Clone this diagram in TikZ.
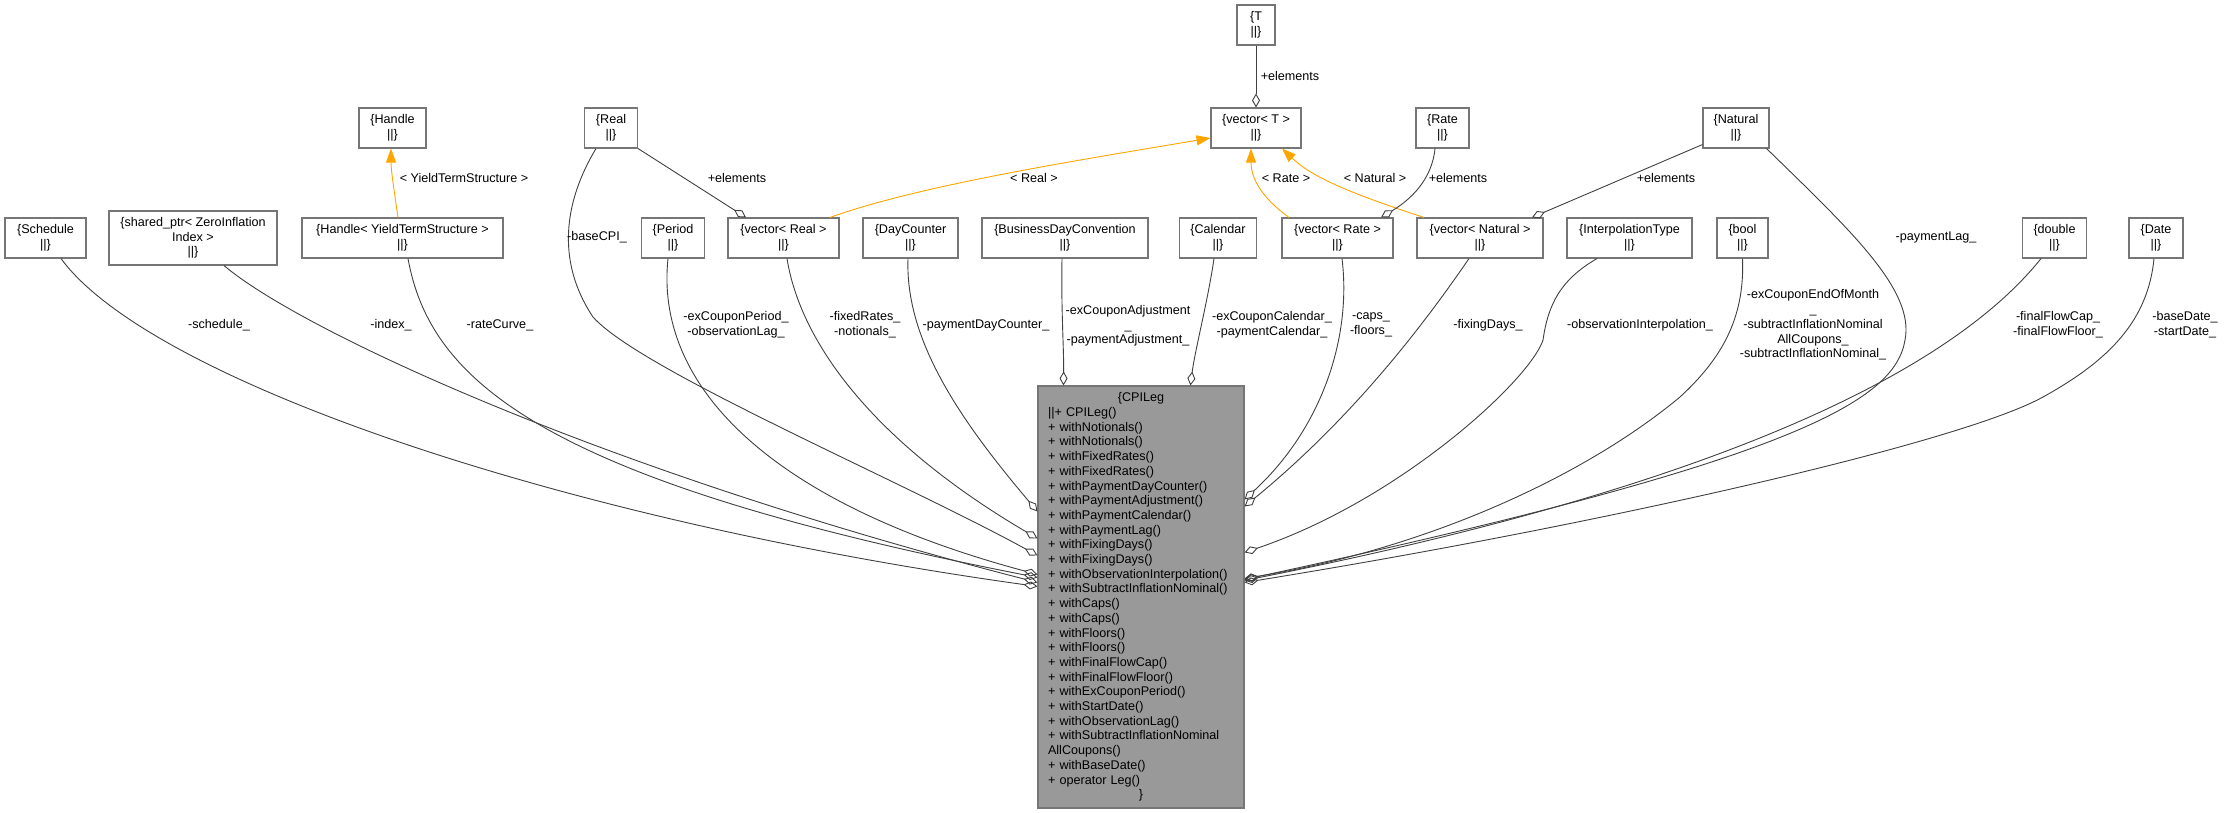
\documentclass[tikz,border=0pt]{standalone}
\usepackage{fontspec}
\setmainfont{Liberation Sans}
\usepackage{xcolor}
\usetikzlibrary{arrows.meta}
\definecolor{edgegray}{RGB}{64,64,64}
\definecolor{boxgray}{RGB}{118,118,118}
\definecolor{legfill}{RGB}{153,153,153}
\definecolor{tmplorange}{RGB}{255,165,0}
\newcommand{\dxfont}{\fontsize{12.6}{14.7}\selectfont}

\begin{document}
\begin{tikzpicture}[x=1pt,y=-1pt,
  cls/.style={draw=boxgray,fill=white,line width=1.1pt,inner sep=0pt,
    align=center,font=\dxfont,minimum height=40pt},
  lbl/.style={inner sep=0pt,align=center,font=\dxfont},
  member/.style={draw=edgegray,line width=0.9pt,
    -{Diamond[open,length=14pt,width=8pt,line width=0.9pt]}},
  tmpl/.style={draw=tmplorange,line width=0.9pt,
    -{Triangle[length=14pt,width=10pt]}}]
  \useasboundingbox (0,0) rectangle (2225,813);

  % top row of classes
  \node[cls,minimum width=38pt] (t) at (1256,25) {\{T\\||\}};
  \node[cls,minimum width=90pt] (vect) at (1256,128) {\{vector< T >\\||\}};
  \node[cls,minimum width=67pt] (handle) at (392.5,128) {\{Handle\\||\}};
  \node[cls,minimum width=53pt] (real) at (611,128) {\{Real\\||\}};
  \node[cls,minimum width=53pt] (rate) at (1442.5,128) {\{Rate\\||\}};
  \node[cls,minimum width=66pt] (natural) at (1736,128) {\{Natural\\||\}};

  % member types
  \node[cls,minimum width=81pt] (schedule) at (45.5,238) {\{Schedule\\||\}};
  \node[cls,minimum width=168pt,minimum height=54pt] (zeroidx) at (193,238)
    {\{shared\_ptr< ZeroInflation\\Index >\\||\}};
  \node[cls,minimum width=201pt] (yts) at (402.5,238) {\{Handle< YieldTermStructure >\\||\}};
  \node[cls,minimum width=63pt] (period) at (673,238) {\{Period\\||\}};
  \node[cls,minimum width=111pt] (vecreal) at (783.5,238) {\{vector< Real >\\||\}};
  \node[cls,minimum width=95pt] (daycounter) at (910.5,238) {\{DayCounter\\||\}};
  \node[cls,minimum width=166pt] (bdc) at (1065,238) {\{BusinessDayConvention\\||\}};
  \node[cls,minimum width=77pt] (calendar) at (1218,238) {\{Calendar\\||\}};
  \node[cls,minimum width=111pt] (vecrate) at (1337.5,238) {\{vector< Rate >\\||\}};
  \node[cls,minimum width=126pt] (vecnatural) at (1480,238) {\{vector< Natural >\\||\}};
  \node[cls,minimum width=125pt] (interp) at (1629.5,238) {\{InterpolationType\\||\}};
  \node[cls,minimum width=51pt] (bool) at (1742.5,238) {\{bool\\||\}};
  \node[cls,minimum width=64pt] (double) at (2054.5,238) {\{double\\||\}};
  \node[cls,minimum width=54pt] (date) at (2156,238) {\{Date\\||\}};

  % the class itself
  \node[cls,fill=legfill,minimum height=422pt,text width=186pt,inner xsep=10pt,
    align=left] (leg) at (1141,597) {\makebox[186pt]{\{CPILeg}\\
    ||+ CPILeg()\\
    + withNotionals()\\
    + withNotionals()\\
    + withFixedRates()\\
    + withFixedRates()\\
    + withPaymentDayCounter()\\
    + withPaymentAdjustment()\\
    + withPaymentCalendar()\\
    + withPaymentLag()\\
    + withFixingDays()\\
    + withFixingDays()\\
    + withObservationInterpolation()\\
    + withSubtractInflationNominal()\\
    + withCaps()\\
    + withCaps()\\
    + withFloors()\\
    + withFloors()\\
    + withFinalFlowCap()\\
    + withFinalFlowFloor()\\
    + withExCouponPeriod()\\
    + withStartDate()\\
    + withObservationLag()\\
    + withSubtractInflationNominal\\
    AllCoupons()\\
    + withBaseDate()\\
    + operator Leg()\\
    \makebox[186pt]{\}}};

  % template instances
  \draw[tmpl] ([xshift=-4.5pt]yts.north) .. controls (394,190) and (391,170) .. ([xshift=-1.5pt]handle.south);
  \draw[tmpl] ([xshift=46.5pt]vecreal.north) .. controls (920,185) and (1080,160) .. ([yshift=-10pt]vect.west);
  \draw[tmpl] ([xshift=-48.5pt]vecrate.north) .. controls (1258,195) and (1251,175) .. ([xshift=-5pt]vect.south);
  \draw[tmpl] ([xshift=-56pt]vecnatural.north) .. controls (1340,190) and (1310,175) .. ([xshift=26pt]vect.south);
  \node[lbl] (lyts) at (464,178) {< YieldTermStructure >};
  \node[lbl] (lreal) at (1034,178) {< Real >};
  \node[lbl] (lrate) at (1286,178) {< Rate >};
  \node[lbl] (lnat) at (1375,178) {< Natural >};

  % element members of the vectors
  \draw[member] (t.south) -- (vect.north);
  \draw[member] (real.south east) -- ([xshift=-37.5pt]vecreal.north);
  \draw[member] ([xshift=-7.5pt]rate.south) .. controls (1432,180) and (1410,200) .. ([xshift=43.5pt]vecrate.north);
  \draw[member] ([yshift=4pt]natural.south west) -- ([xshift=52pt]vecnatural.north);
  \node[lbl] (lelemt) at (1290,76) {+elements};
  \node[lbl] (lelemreal) at (737,178) {+elements};
  \node[lbl] (lelemrate) at (1458,178) {+elements};
  \node[lbl] (lelemnat) at (1666,178) {+elements};

  % members, left side
  \draw[member] ([xshift=15.5pt]schedule.south) .. controls (150,380) and (560,520) .. ([yshift=-201pt]leg.north west);
  \draw[member] ([xshift=31pt]zeroidx.south) .. controls (300,330) and (600,470) .. ([yshift=-197pt]leg.north west);
  \draw[member] ([xshift=5.5pt]yts.south) .. controls (430,380) and (540,480) .. ([yshift=-192pt]leg.north west);
  \draw[member] ([xshift=-15pt]real.south) .. controls (565,200) and (555,260) .. (593,317)
    .. controls (640,370) and (900,480) .. ([yshift=-170pt]leg.north west);
  \draw[member] ([xshift=-5pt]period.south) .. controls (655,380) and (760,500) .. ([yshift=-189pt]leg.north west);
  \draw[member] ([xshift=3.5pt]vecreal.south) .. controls (800,340) and (870,440) .. ([yshift=-153pt]leg.north west);
  \draw[member] ([xshift=-2.5pt]daycounter.south) .. controls (905,340) and (960,420) .. ([yshift=-126pt]leg.north west);

  % members, top
  \draw[member] ([xshift=-3pt]bdc.south) .. controls (1061,310) and (1064,350) .. ([xshift=26pt]leg.north west);
  \draw[member] ([xshift=-4pt]calendar.south) .. controls (1208,300) and (1195,350) .. ([xshift=153pt]leg.north west);

  % members, right side
  \draw[member] ([xshift=4.5pt]vecrate.south) .. controls (1352,340) and (1320,430) .. ([yshift=-114pt]leg.north east);
  \draw[member] ([xshift=-11pt]vecnatural.south) .. controls (1420,330) and (1350,420) .. ([yshift=-121pt]leg.north east);
  \draw[member] ([xshift=-32.5pt]interp.south) .. controls (1560,280) and (1548,305) .. (1543,340)
    .. controls (1530,380) and (1400,500) .. ([yshift=-167pt]leg.north east);
  \draw[member] (bool.south) .. controls (1745,320) and (1720,360) .. (1680,397)
    .. controls (1580,480) and (1420,550) .. ([yshift=-193pt]leg.north east);
  \draw[member] ([xshift=-3pt]natural.south east) .. controls (1850,230) and (1915,290) .. (1905,340)
    .. controls (1895,400) and (1800,460) .. ([yshift=-194pt]leg.north east);
  \draw[member] ([xshift=-13.5pt]double.south) .. controls (1960,360) and (1750,480) .. ([yshift=-195pt]leg.north east);
  \draw[member] ([xshift=-2pt]date.south) .. controls (2148,320) and (2110,360) .. (2043,397)
    .. controls (1960,443) and (1600,525) .. ([yshift=-197pt]leg.north east);

  % member labels
  \node[lbl] (lsched) at (219,325) {-schedule\_};
  \node[lbl] (lidx) at (391,325) {-index\_};
  \node[lbl] (lcurve) at (500,325) {-rateCurve\_};
  \node[lbl] (lbase) at (597,237) {-baseCPI\_};
  \node[lbl] (lperiod) at (736,325) {-exCouponPeriod\_\\-observationLag\_};
  \node[lbl] (lrates) at (865,325) {-fixedRates\_\\-notionals\_};
  \node[lbl] (ldc) at (986,325) {-paymentDayCounter\_};
  \node[lbl] (ladj) at (1128,326) {-exCouponAdjustment\\\_\\-paymentAdjustment\_};
  \node[lbl] (lcal) at (1272,325) {-exCouponCalendar\_\\-paymentCalendar\_};
  \node[lbl] (lcaps) at (1371,325) {-caps\_\\-floors\_};
  \node[lbl] (lfix) at (1488,325) {-fixingDays\_};
  \node[lbl] (linterp) at (1640,325) {-observationInterpolation\_};
  \node[lbl] (lbool) at (1813,325) {-exCouponEndOfMonth\\\_\\-subtractInflationNominal\\AllCoupons\_\\-subtractInflationNominal\_};
  \node[lbl] (llag) at (1936,237) {-paymentLag\_};
  \node[lbl] (lflow) at (2058,325) {-finalFlowCap\_\\-finalFlowFloor\_};
  \node[lbl] (ldate) at (2185,325) {-baseDate\_\\-startDate\_};
\end{tikzpicture}
\end{document}
